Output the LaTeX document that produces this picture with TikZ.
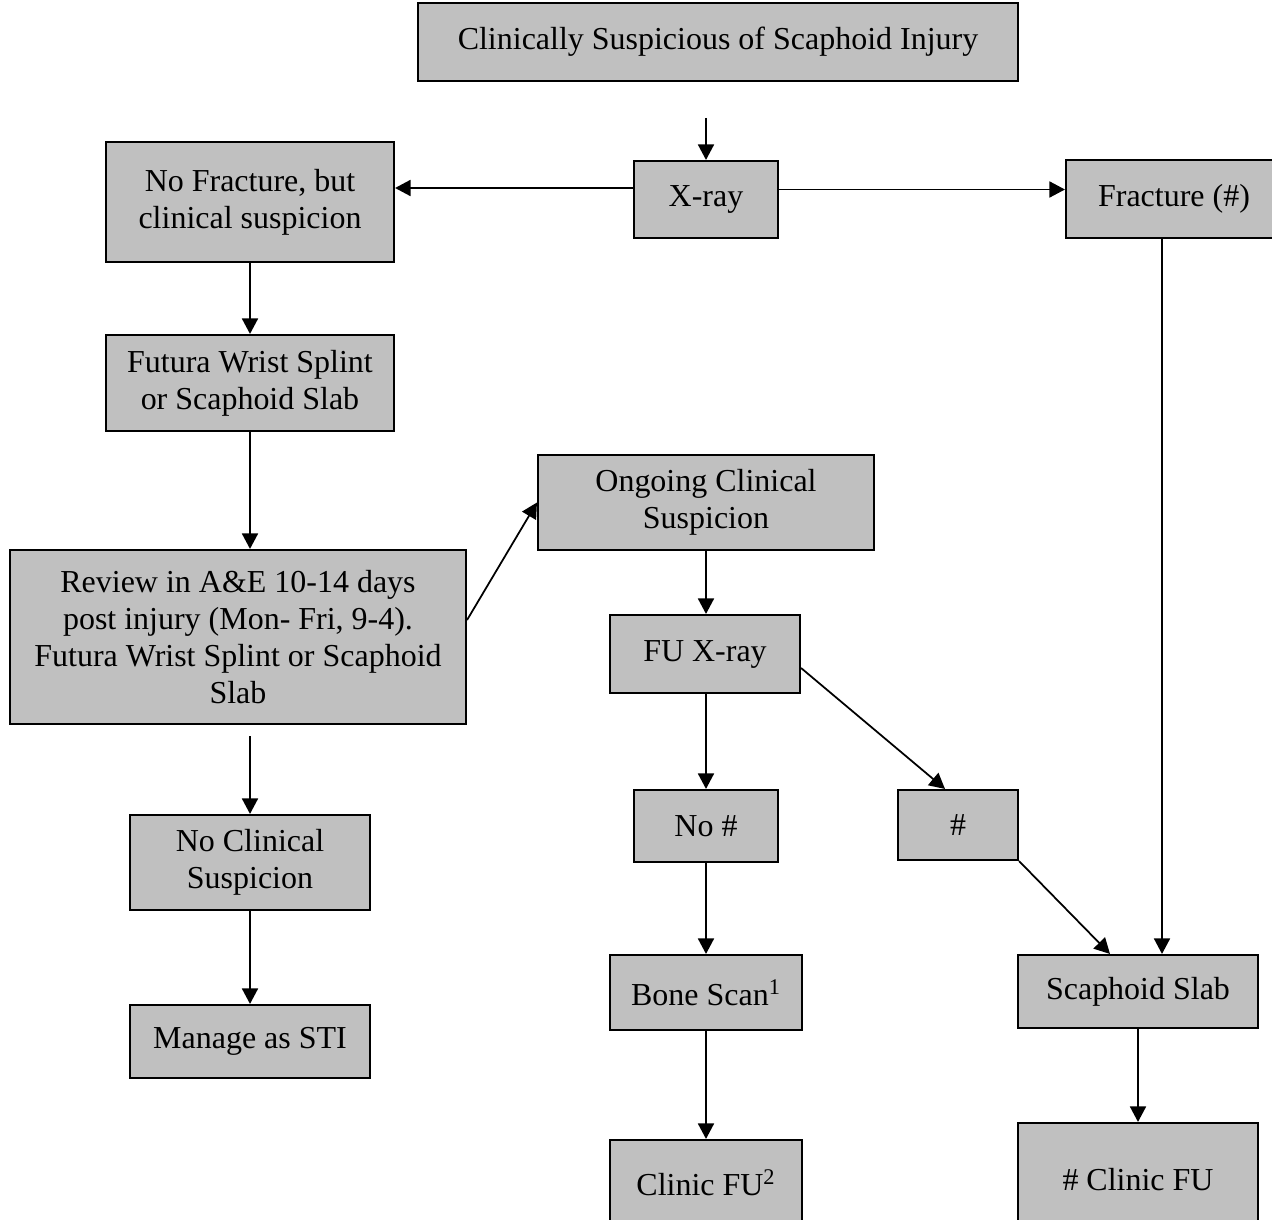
\documentclass[tikz,border=0pt]{standalone}
\usepackage{fontspec}
\setmainfont{Liberation Serif}
\usetikzlibrary{positioning, arrows.meta}
\definecolor{boxgray}{RGB}{192,192,192}
\tikzset{
  stage/.style={draw, fill=boxgray, line width=1.2pt, align=center, inner sep=0pt,
    font=\fontsize{18.2}{21}\selectfont},
  dims/.style 2 args={minimum width=#1*0.02cm, minimum height=#2*0.02cm},
}

\begin{document}
\begin{tikzpicture}[x=0.02cm, y=-0.02cm, line width=1pt,
    >={Triangle[length=0.31cm, width=0.32cm]}]
        \useasboundingbox (0,0) rectangle (1272,1220);
        \clip (0,0) rectangle (1272,1220);

        \node[stage, dims={600}{78}] (susp) at (718,42) {Clinically Suspicious of Scaphoid Injury};
        \coordinate (xin) at (706,118);
        \node[stage, dims={144}{77}] (xray) at (706,199.5) {X-ray};
        \node[stage, dims={288}{120}] (nofrac) at (250,202) {No Fracture, but\\clinical suspicion};
        \node[stage, dims={216}{78}] (frac) at (1174,199) {Fracture (\#)};
        \node[stage, dims={288}{96}] (futura) at (250,383) {Futura Wrist Splint\\or Scaphoid Slab};
        \node[stage, dims={456}{174}] (review) at (238,637) {Review in A\&E 10-14 days\\post injury (Mon- Fri, 9-4).\\Futura Wrist Splint or Scaphoid\\Slab};
        \node[stage, dims={336}{95}] (ongoing) at (706,502.5) {Ongoing Clinical\\Suspicion};
        \node[stage, dims={190}{78}] (fuxray) at (705,654) {FU X-ray};
        \node[stage, dims={144}{72}] (nofx) at (706,826) {No \#};
        \node[stage, dims={120}{70}] (fx) at (958,825) {\#};
        \node[stage, dims={240}{95}] (noclin) at (250,862.5) {No Clinical\\Suspicion};
        \node[stage, dims={240}{73}] (sti) at (250,1041.5) {Manage as STI};
        \node[stage, dims={192}{75}] (bone) at (706,992.5) {Bone Scan\textsuperscript{1}};
        \node[stage, dims={240}{73}] (slab) at (1138,991.5) {Scaphoid Slab};
        \node[stage, dims={192}{85}] (clinic) at (706,1182.5) {Clinic FU\textsuperscript{2}};
        \node[stage, dims={240}{114}] (hclinic) at (1138,1180) {\# Clinic FU};

        \draw[->] (xin) -- (xray);
        \draw[->] ([yshift=0.23cm]xray.west) -- ([yshift=0.23cm]xray.west -| nofrac.east);
        \draw[->] ([yshift=0.2cm]xray.east) -- ([yshift=0.2cm]xray.east -| frac.west);
        \draw[->] (nofrac) -- (futura);
        \draw[->] (futura.south) -- (futura.south |- review.north);
        \draw[->] ([yshift=0.34cm]review.east) -- (ongoing.west);
        \draw[->] (ongoing.south) -- (ongoing.south |- fuxray.north);
        \draw[->] ([yshift=-0.28cm]fuxray.east) -- ([xshift=-0.26cm]fx.north);
        \draw[->] (fuxray.south -| nofx.north) -- (nofx.north);
        \draw[->, shorten <=0.22cm] (noclin.north |- review.south) -- (noclin.north);
        \draw[->] (noclin) -- (sti);
        \draw[->] (nofx) -- (bone);
        \draw[->] (bone) -- (clinic);
        \draw[->] ([xshift=-0.24cm]frac.south) -- ([xshift=-0.24cm]frac.south |- slab.north);
        \draw[->] (fx.south east) -- ([xshift=-0.56cm]slab.north);
        \draw[->] (slab) -- (hclinic);
    \end{tikzpicture}
\end{document}
